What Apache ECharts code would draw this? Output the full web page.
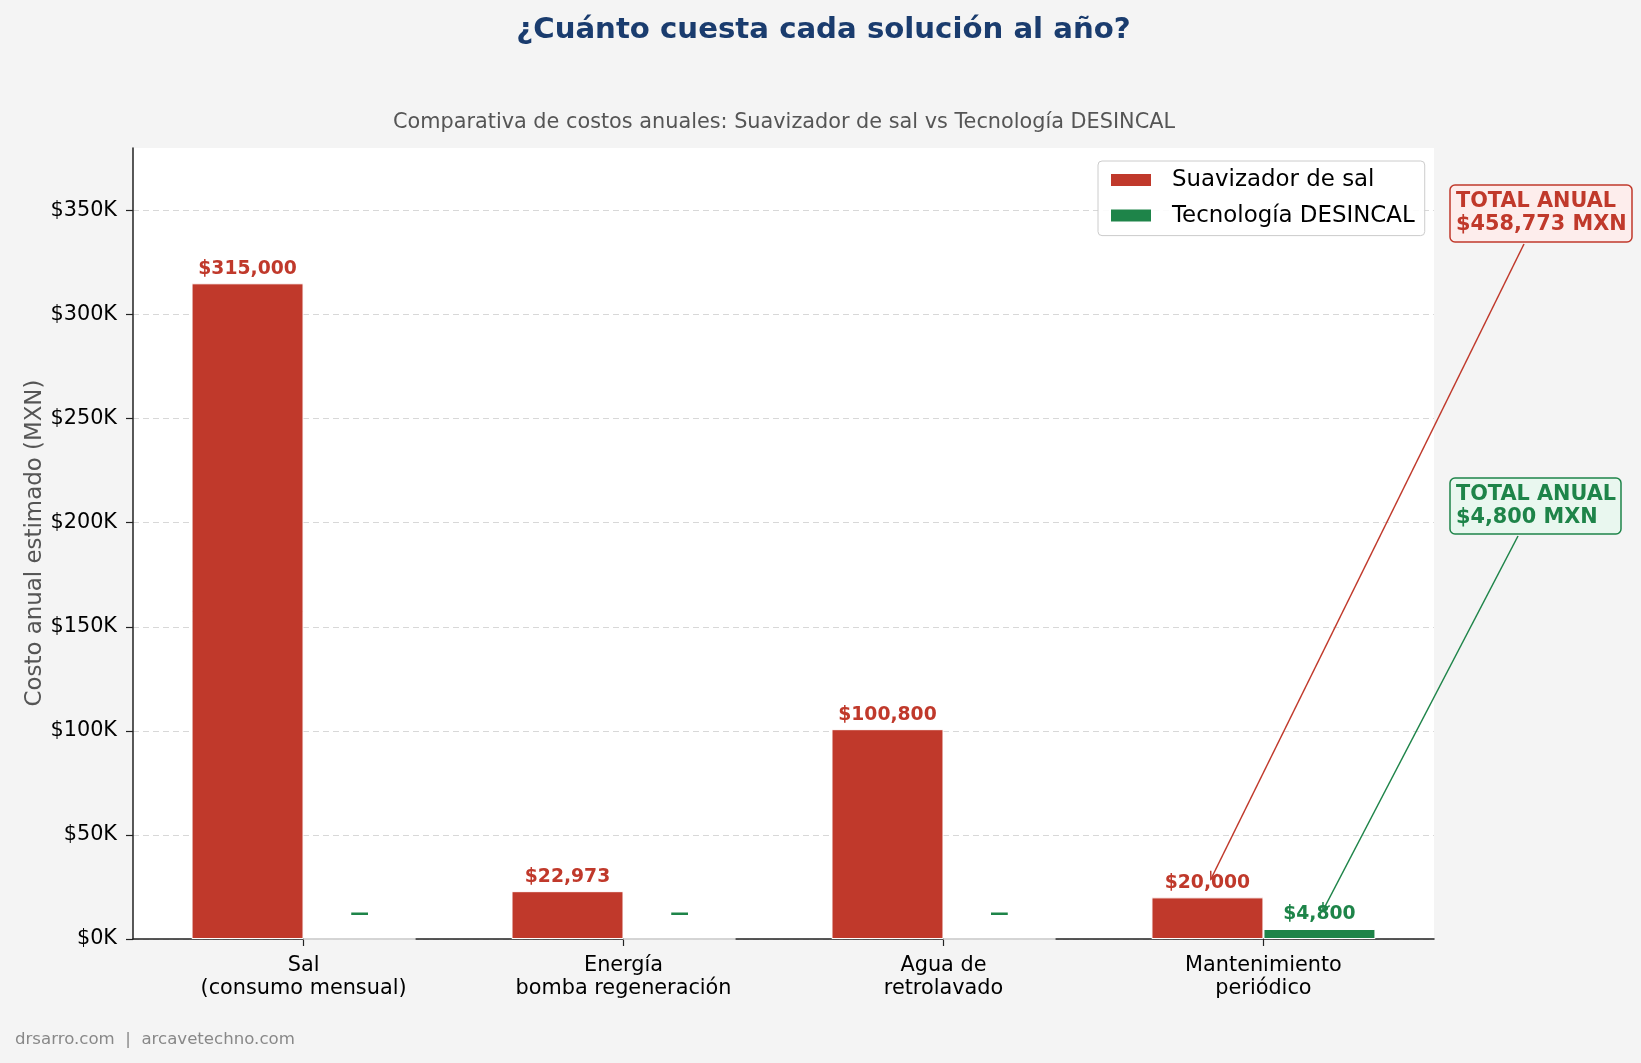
<!DOCTYPE html>
<html>
<head>
<meta charset="utf-8">
<script src="https://cdn.jsdelivr.net/npm/echarts@6/dist/echarts.min.js"></script>
<style>
  html, body { margin: 0; padding: 0; background: #f4f4f4; }
  #chart { width: 1641px; height: 1063px; }
</style>
</head>
<body>
<div id="chart"></div>
<script>
// datos (MXN por año)
const categories = ['Sal\n(consumo mensual)', 'Energía\nbomba regeneración', 'Agua de\nretrolavado', 'Mantenimiento\nperiódico']
const suavizador = [315000, 22973, 100800, 20000]
const desincal = [0, 0, 0, 4800]
const yTicks = [0, 50000, 100000, 150000, 200000, 250000, 300000, 350000]
const xTicks = [0, 1, 2, 3]

const RED = '#c0392b'
const GREEN = '#1e8449'
const FONT = 'DejaVu Sans'

const money = (v) => '$' + v.toLocaleString('en-US')
const totalRed = suavizador.reduce((a, b) => a + b, 0)
const totalGreen = desincal.reduce((a, b) => a + b, 0)

const valueLabel = (color) => ({
    show: true,
    position: 'top',
    distance: 5,
    color: color,
    fontFamily: FONT,
    fontWeight: 'bold',
    fontSize: 18.75,
    formatter: (p) => (p.value[1] === 0 ? '—' : money(p.value[1])),
})

const option = {
    backgroundColor: '#f4f4f4',
    animation: false,
    textStyle: { fontFamily: FONT },
    grid: {
        left: 133,
        right: 207,
        top: 148,
        bottom: 124,
        show: true,
        backgroundColor: '#ffffff',
        borderWidth: 0,
    },
    legend: {
        orient: 'vertical',
        left: 1098,
        top: 161,
        padding: [7, 10, 8, 11],
        backgroundColor: 'rgba(255,255,255,0.9)',
        borderColor: '#cccccc',
        borderWidth: 1,
        borderRadius: 4,
        itemWidth: 42,
        itemHeight: 14,
        itemGap: 11.6,
        icon: 'rect',
        textStyle: { fontFamily: FONT, fontSize: 22.9, lineHeight: 24, color: '#000', padding: [0, 0, 0, 15] },
        data: ['Suavizador de sal', 'Tecnología DESINCAL'],
    },
    xAxis: {
        type: 'value',
        min: -0.533,
        max: 3.533,
        axisLine: { show: true, onZero: false, lineStyle: { color: '#222', width: 1.5 } },
        axisTick: { show: true, customValues: xTicks, length: 7, lineStyle: { color: '#222', width: 1.2 } },
        axisLabel: {
            customValues: xTicks,
            formatter: (v) => categories[Math.round(v)],
            fontFamily: FONT,
            fontSize: 20.8,
            lineHeight: 23,
            margin: 15,
            color: '#000',
        },
        splitLine: { show: false },
    },
    yAxis: {
        type: 'value',
        min: 0,
        max: 380000,
        interval: 50000,
        axisLine: { show: true, onZero: false, lineStyle: { color: '#222', width: 1.5 } },
        axisTick: { show: true, customValues: yTicks, length: 7, lineStyle: { color: '#222', width: 1.2 } },
        axisLabel: {
            customValues: yTicks,
            formatter: (v) => '$' + v / 1000 + 'K',
            fontFamily: FONT,
            fontSize: 20.8,
            margin: 16,
            color: '#000',
        },
        splitLine: { show: true, customValues: yTicks, lineStyle: { color: '#d8d8d8', width: 1.2, type: [6, 4] } },
    },
    series: [
        {
            name: 'Suavizador de sal',
            type: 'bar',
            barWidth: 112,
            barGap: '0%',
            itemStyle: { color: RED, borderColor: '#ffffff', borderWidth: 1 },
            label: valueLabel(RED),
            data: suavizador.map((v, i) => [i, v]),
        },
        {
            name: 'Tecnología DESINCAL',
            type: 'bar',
            barWidth: 112,
            barGap: '0%',
            itemStyle: { color: GREEN, borderColor: '#ffffff', borderWidth: 1 },
            label: valueLabel(GREEN),
            data: desincal.map((v, i) => (v === 0 ? { value: [i, v], label: { distance: 15 } } : [i, v])),
        },
    ],
}

const chart = echarts.init(document.getElementById('chart'))
chart.setOption(option)

// flecha estilo "->" desde la caja hasta el punto del dato
function arrow(from, to, color) {
    const dx = to[0] - from[0]
    const dy = to[1] - from[1]
    const len = Math.sqrt(dx * dx + dy * dy)
    const ux = dx / len
    const uy = dy / len
    const b = [to[0] - ux * 4, to[1] - uy * 4]
    const hl = 7.5
    const hw = 3.8
    const base = [b[0] - ux * hl, b[1] - uy * hl]
    const left = [base[0] - uy * hw, base[1] + ux * hw]
    const right = [base[0] + uy * hw, base[1] - ux * hw]
    return [
        { type: 'line', shape: { x1: from[0], y1: from[1], x2: b[0], y2: b[1] }, style: { stroke: color, lineWidth: 1.5 }, z: 20 },
        { type: 'polyline', shape: { points: [left, b, right] }, style: { stroke: color, lineWidth: 1.5, fill: null }, z: 20 },
    ]
}

function totalBox(x, y, w, h, fill, color, value) {
    return [
        { type: 'rect', shape: { x: x, y: y, width: w, height: h, r: 5 }, style: { fill: fill, stroke: color, lineWidth: 1.5 }, z: 21 },
        {
            type: 'text', x: x + 6, y: y + 17, z: 22,
            style: { text: 'TOTAL ANUAL', fill: color, font: 'bold 20.8px "DejaVu Sans"', verticalAlign: 'middle' },
        },
        {
            type: 'text', x: x + 6, y: y + 40, z: 22,
            style: { text: money(value) + ' MXN', fill: color, font: 'bold 20.8px "DejaVu Sans"', verticalAlign: 'middle' },
        },
    ]
}

const redTip = chart.convertToPixel({ gridIndex: 0 }, [2.83, 27000])
const greenTip = chart.convertToPixel({ gridIndex: 0 }, [3.18, 12000])

chart.setOption({
    graphic: [
        {
            type: 'text', x: 823.5, y: 30,
            style: { text: '¿Cuánto cuesta cada solución al año?', fill: '#1a3c6e', font: 'bold 29.2px "DejaVu Sans"', align: 'center', verticalAlign: 'middle' },
        },
        {
            type: 'text', x: 784, y: 123,
            style: { text: 'Comparativa de costos anuales: Suavizador de sal vs Tecnología DESINCAL', fill: '#555555', font: '20.8px "DejaVu Sans"', align: 'center', verticalAlign: 'middle' },
        },
        {
            type: 'text', x: 35, y: 543, rotation: Math.PI / 2,
            style: { text: 'Costo anual estimado (MXN)', fill: '#555555', font: '22.9px "DejaVu Sans"', align: 'center', verticalAlign: 'middle' },
        },
        {
            type: 'text', x: 15, y: 1040,
            style: { text: 'drsarro.com  |  arcavetechno.com', fill: '#888888', font: '16.6px "DejaVu Sans"', verticalAlign: 'middle' },
        },
        ...arrow([1524, 244], redTip, RED),
        ...arrow([1518, 536], greenTip, GREEN),
        ...totalBox(1450, 185, 182, 57, '#fdedec', RED, totalRed),
        ...totalBox(1450, 478, 171, 56, '#e9f7ef', GREEN, totalGreen),
    ],
})
</script>
</body>
</html>
